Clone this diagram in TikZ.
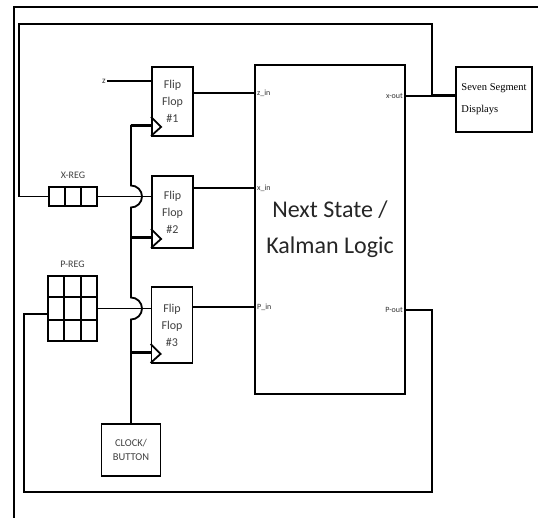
\documentclass[tikz,border=0pt]{standalone}
\usepackage{fontspec}
\setmainfont{Carlito}
\newfontfamily\segfont{Liberation Serif}
\usetikzlibrary{positioning,calc}

\begin{document}
\begin{tikzpicture}[x=1pt, y=-1pt,
  wire/.style={line width=1.8pt},
  clkwire/.style={line width=2.8pt},
  box/.style={draw, line width=1.8pt, inner sep=0pt, align=center},
  ffbox/.style={box, minimum width=41pt, text=black!75,
                font=\fontsize{12}{17}\selectfont},
  pinlbl/.style={font=\fontsize{8}{9}\selectfont, text=black!80, inner sep=1pt},
  reglbl/.style={font=\fontsize{10}{11}\selectfont, text=black!75}
]
  \useasboundingbox (0,0) rectangle (538,518);
  \draw[line width=1.8pt] (14,518) -- (14,7) -- (538,7);

  % blocks
  \node[box, minimum width=150pt, minimum height=329pt, text=black!85,
        font=\fontsize{24}{36}\selectfont] (main) at (330,229.5)
    {Next State /\\Kalman Logic};
  \node[ffbox, minimum height=69pt] (ff1) at (172.5,101.5) {Flip\\Flop\\\#1};
  \node[ffbox, minimum height=72pt] (ff2) at (172.5,212) {Flip\\Flop\\\#2};
  \node[ffbox, minimum height=76pt] (ff3) at (172,325) {Flip\\Flop\\\#3};
  \node[box, minimum width=59pt, minimum height=52pt, text=black!75,
        font=\fontsize{10.5}{14}\selectfont] (clk) at (131,450) {CLOCK/\\BUTTON};
  \node[draw, line width=1.2pt, minimum width=76pt, minimum height=65pt,
        inner sep=0pt, align=left, font=\segfont\fontsize{10.5}{22}\selectfont]
    (seg) at (494,99.5) {Seven Segment\\Displays};

  % registers
  \node[box, minimum width=48pt, minimum height=19pt] (xreg) at (73,196.5) {};
  \foreach \i in {1,2}
    \draw[wire] ($(xreg.north west)!\i/3!(xreg.north east)$)
      -- ($(xreg.south west)!\i/3!(xreg.south east)$);
  \node[reglbl, above=4pt of xreg] (xlbl) {X-REG};

  \node[box, minimum width=49pt, minimum height=65pt] (preg) at (72.5,308.5) {};
  \foreach \i in {1,2} {
    \draw[wire] ($(preg.north west)!\i/3!(preg.north east)$)
      -- ($(preg.south west)!\i/3!(preg.south east)$);
    \draw[wire] ($(preg.north west)!\i/3!(preg.south west)$)
      -- ($(preg.north east)!\i/3!(preg.south east)$);
  }
  \node[reglbl, above=4pt of preg] (plbl) {P-REG};

  % port labels
  \node[pinlbl, anchor=west] (zin) at (256,93) {z\_in};
  \node[pinlbl, anchor=west] (xin) at (256,188) {x\_in};
  \node[pinlbl, anchor=west] (pin) at (256,307) {P\_in};
  \node[pinlbl, anchor=east] (xout) at (404,96) {x-out};
  \node[pinlbl, anchor=east] (pout) at (404,310) {P-out};
  \node[pinlbl, font=\fontsize{9}{10}\selectfont] (z) at (104,81) {z};

  % clock inputs
  \foreach \f in {ff1,ff2,ff3} {
    \draw[wire] ($(\f.south west)+(0,-20)$) -- ++(10,10)
      -- ($(\f.south west)+(0,-1)$);
    \coordinate (\f-c) at ($(\f.south west)+(0,-11)$);
  }

  % data wires
  \draw[wire] (z.east) -- (z.east -| ff1.west);
  \draw[wire] (ff1.east |- zin) -- (main.west |- zin);
  \draw[wire] (ff2.east |- xin) -- (main.west |- xin);
  \draw[wire] (ff3.east |- pin) -- (main.west |- pin);
  \draw[wire] (xreg.east) -- (xreg.east -| ff2.west);
  \draw[wire] (preg.east) -- (preg.east -| ff3.west);

  % feedback
  \coordinate (tap) at (432,96);
  \coordinate (pfb) at (24,314);
  \draw[wire] (main.east |- xout) -- (seg.west |- xout);
  \draw[line width=3pt] (tap) -- (seg.west |- xout);
  \draw[wire] (tap) |- (19,24) |- (xreg.west);
  \draw[wire] (main.east |- pout) -| (432,492) -| (pfb) -- (pfb -| preg.west);

  % clock bus
  \draw[wire] (ff1-c) -| ($(xreg.east -| clk.north)+(0,-11)$)
    arc[start angle=90, end angle=-90, radius=11pt]
    -- ($(preg.east -| clk.north)+(0,-11)$)
    arc[start angle=90, end angle=-90, radius=11pt] -- (clk.north);
  \draw[clkwire] (ff1-c) -- (ff1-c -| clk.north);
  \draw[clkwire] (ff2-c) -- (ff2-c -| clk.north);
  \draw[clkwire] (ff3-c) -- (ff3-c -| clk.north);
\end{tikzpicture}
\end{document}
